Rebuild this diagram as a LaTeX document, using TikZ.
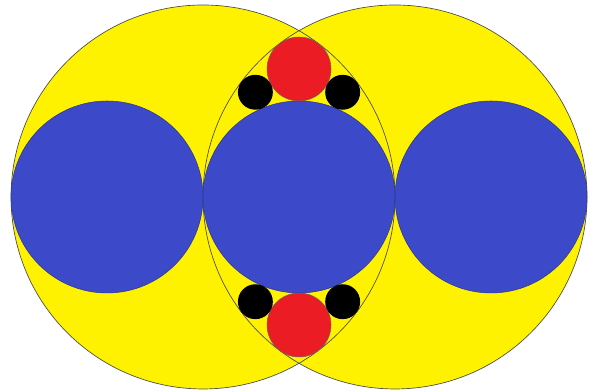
\documentclass[tikz,border=0pt]{standalone}
\usepackage{xcolor}
\definecolor{lensyellow}{HTML}{FFF200}
\definecolor{discblue}{HTML}{3C4AC9}
\definecolor{capred}{HTML}{EC1C24}

\begin{document}
\begin{tikzpicture}[x=2cm, y=2cm,
  big/.style={fill=lensyellow},
  rim/.style={draw=black!70, line width=0.4pt},
  blue disc/.style={fill=discblue, draw=discblue!70!black, line width=0.3pt},
  red disc/.style={fill=capred, draw=black!60, line width=0.3pt},
  dot/.style={fill=black}
]
  \useasboundingbox (-3.115,-2.031) rectangle (3.052,2.052);
  % centres
  \coordinate (bl) at (-1,0);
  \coordinate (br) at (1,0);
  \coordinate (ml) at (-2,0);
  \coordinate (mm) at (0,0);
  \coordinate (mr) at (2,0);
  \coordinate (rt) at (0,4/3);
  \coordinate (rb) at (0,-4/3);
  % two large circles
  \fill[big] (bl) circle (2);
  \fill[big] (br) circle (2);
  \draw[rim] (bl) circle (2);
  \draw[rim] (br) circle (2);
  % three equal discs
  \foreach \c in {ml,mm,mr}
    \path[blue disc] (\c) circle (1);
  % discs in the lens
  \path[red disc] (rt) circle (1/3);
  \path[red disc] (rb) circle (1/3);
  \foreach \sx in {-1,1}
    \foreach \sy in {-1,1}
      \fill[dot] (\sx*5/11,\sy*12/11) circle (2/11);
\end{tikzpicture}
\end{document}
